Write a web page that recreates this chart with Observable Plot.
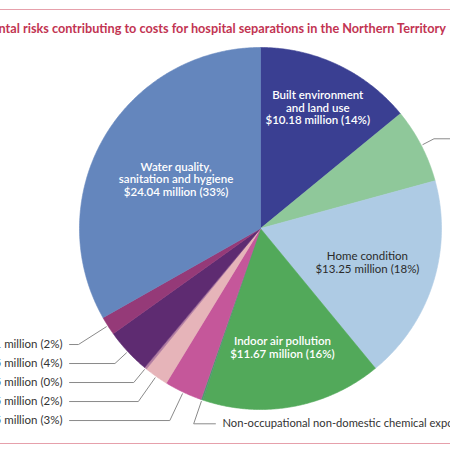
<!DOCTYPE html>
<html>
<head>
<meta charset="utf-8">
<script src="https://cdn.jsdelivr.net/npm/d3@7"></script>
<script src="https://cdn.jsdelivr.net/npm/@observablehq/plot@0.6"></script>
<style>
  body { margin: 0; background: #fff; }
  #chart { position: relative; width: 450px; height: 450px; overflow: hidden; font-family: Lato, sans-serif; }
  #chart svg { position: absolute; left: 0; top: 0; }
  .rule { position: absolute; left: 0; width: 450px; height: 1px; background: #e6a0ab; }
  #title { position: absolute; right: 4px; top: 20px; white-space: nowrap; font-weight: 700; font-size: 12.7px; color: #c23452; }
</style>
</head>
<body>
<div id="chart"></div>
<script>
// slices, clockwise from 12 o'clock
const names = [
  "Built environment\nand land use",
  "Personal hygiene",
  "Home condition",
  "Indoor air pollution",
  "Non-occupational non-domestic chemical exposure",
  "Outdoor air pollution",
  "Food safety",
  "Radiation",
  "Pests and vectors",
  "Noise",
  "Water quality,\nsanitation and hygiene"
];
const values = [10.18, 4.85, 13.25, 11.67, 0.12, 2.45, 1.55, 0.15, 2.95, 1.21, 24.04];
const percents = [14, 7, 18, 16, 0, 3, 2, 0, 4, 2, 33];
const colors = ["#3a3f92", "#8fc89a", "#aecbe4", "#52a95a", "#4e9b6f", "#c5579a", "#e6b4b9", "#b07aa0", "#5e2b71", "#953a78", "#6486bd"];

// which slices get a label inside, and which get a leader line
const inside = {0: {r: 0.74, fill: "white"}, 2: {r: 0.62, fill: "#2b2b2b"}, 3: {r: 0.67, fill: "white"}, 10: {r: 0.54, fill: "white"}};
const leftRows = [9, 8, 7, 6, 5];   // top to bottom
const rightBottom = 4;
const rightTop = 1;

const label = i => `$${values[i].toFixed(2)} million (${percents[i]}%)`;

const arcs = d3.pie().sort(null).value(d => d)(values);
const pt = (a, r) => ({x: r * Math.sin(a), y: r * Math.cos(a)});

const slices = arcs.map((a, i) => {
  const pts = [{x: 0, y: 0}];
  const step = Math.PI / 360;
  for (let t = a.startAngle; t < a.endAngle; t += step) pts.push(pt(t, 1));
  pts.push(pt(a.endAngle, 1));
  pts.push({x: 0, y: 0});
  return {pts, color: colors[i]};
});
const mid = i => (arcs[i].startAngle + arcs[i].endAngle) / 2;

const innerLabels = Object.keys(inside).map(k => {
  const i = +k, p = pt(mid(i), inside[i].r);
  return {x: p.x, y: p.y, text: names[i] + "\n" + label(i), fill: inside[i].fill, w: i == 2 ? 400 : 600};
});

// leader lines
const rowY0 = -0.641, rowStep = 0.105;
const leaders = [], outLabels = [];
function leader(i, rowY, endX, textX, anchor) {
  const a = mid(i);
  const t = rowY / Math.cos(a);
  leaders.push({k: i, ...pt(a, 1.01)});
  leaders.push({k: i, x: t * Math.sin(a), y: rowY});
  leaders.push({k: i, x: endX, y: rowY});
  outLabels.push({x: textX, y: rowY, text: names[i] + " " + label(i), anchor});
}
leftRows.forEach((i, j) => leader(i, rowY0 - j * rowStep, -1.055, -1.094, "end"));
leader(rightBottom, -1.079, -0.249, -0.21, "start");
leader(rightTop, 0.4956, 1.3, 1.34, "start");

const plot = Plot.plot({
  width: 450,
  height: 450,
  margin: 0,
  x: {domain: [-260 / 181, 190 / 181], axis: null},
  y: {domain: [-222 / 181, 228 / 181], axis: null},
  style: {fontFamily: "Lato, sans-serif", background: "white", overflow: "visible"},
  marks: [
    ...slices.map(s => Plot.line(s.pts, {x: "x", y: "y", fill: s.color, stroke: s.color, strokeWidth: 0.6})),
    Plot.line(leaders, {x: "x", y: "y", z: "k", stroke: "#8a8a8a", strokeWidth: 1}),
    Plot.text(innerLabels.filter(d => d.w == 600), {x: "x", y: "y", text: "text", fill: "fill", fontSize: 11.5, fontWeight: 600, lineHeight: 1.12}),
    Plot.text(innerLabels.filter(d => d.w == 400), {x: "x", y: "y", text: "text", fill: "fill", fontSize: 11.5, lineHeight: 1.12}),
    Plot.text(outLabels.filter(d => d.anchor == "end"), {x: "x", y: "y", text: "text", textAnchor: "end", fill: "#333", fontSize: 11.5}),
    Plot.text(outLabels.filter(d => d.anchor == "start"), {x: "x", y: "y", text: "text", textAnchor: "start", fill: "#333", fontSize: 11.2})
  ]
});

const chart = document.getElementById("chart");
chart.append(plot);
chart.insertAdjacentHTML("beforeend",
  '<div class="rule" style="top:9px"></div>' +
  '<div id="title">Figure 5: Environmental risks contributing to costs for hospital separations in the Northern Territory</div>' +
  '<div class="rule" style="top:443px"></div>');
</script>
</body>
</html>
